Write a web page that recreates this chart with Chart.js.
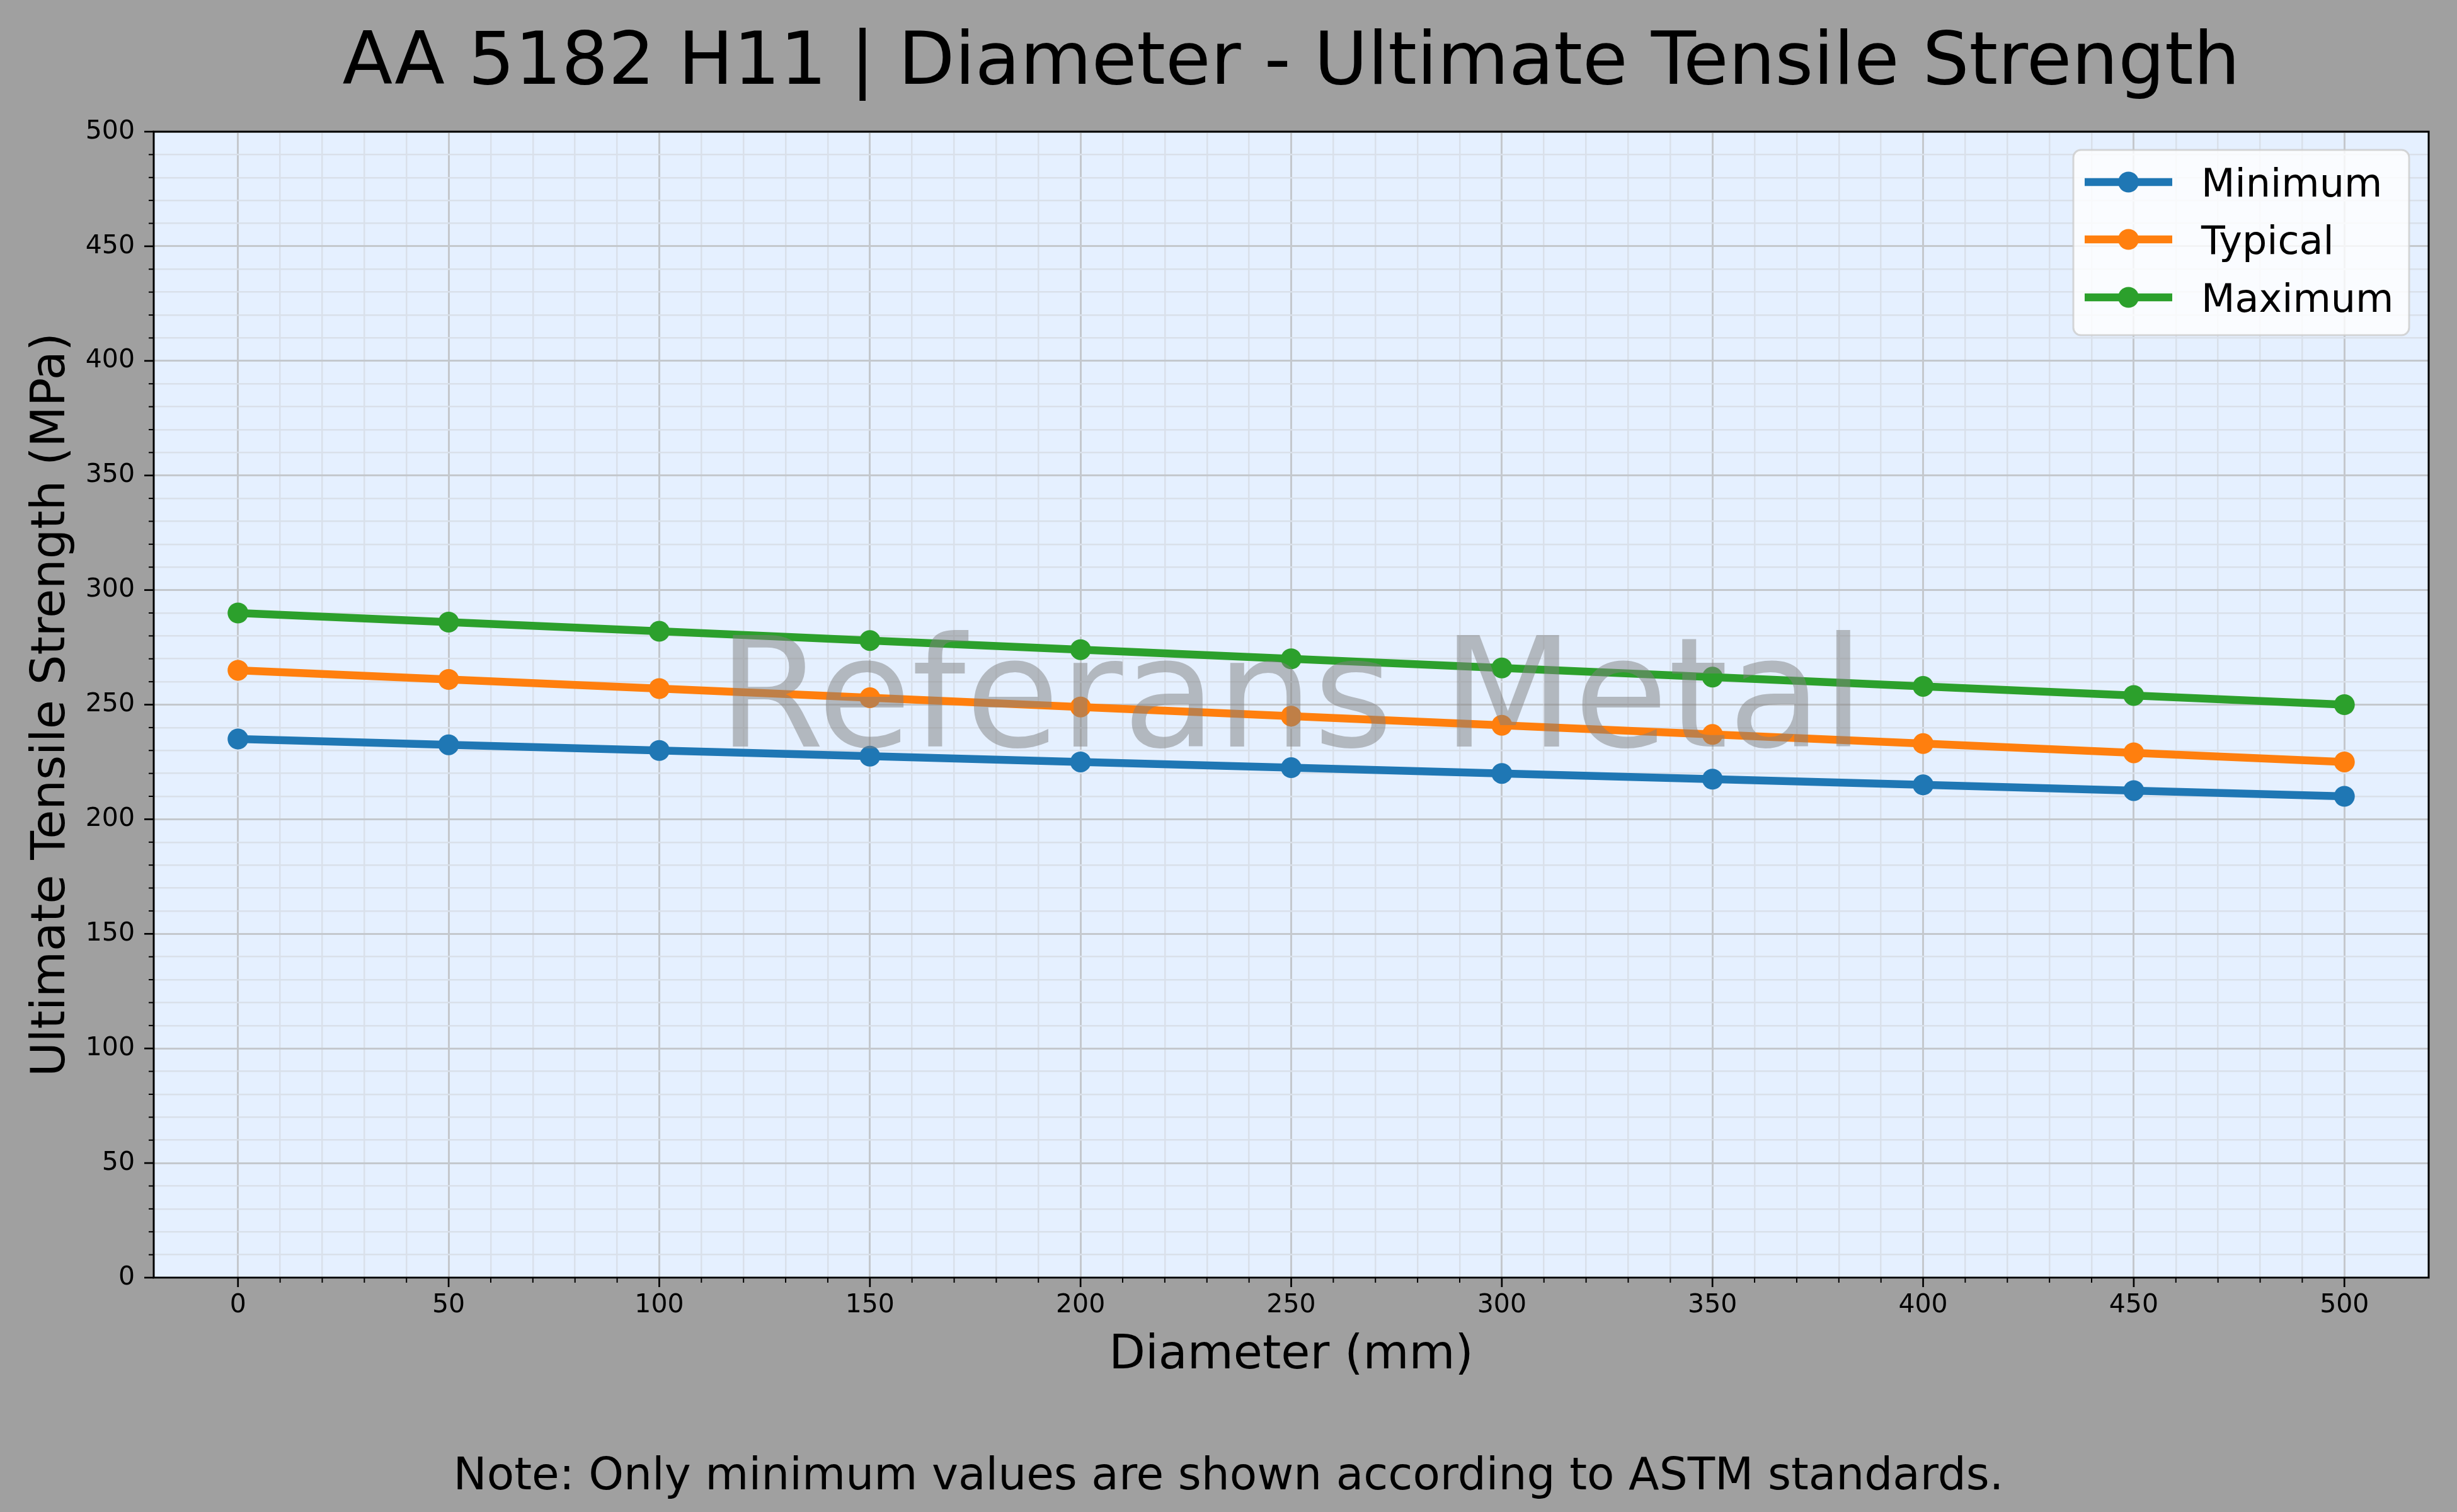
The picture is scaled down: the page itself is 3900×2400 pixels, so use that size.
<!DOCTYPE html>
<html>
<head>
<meta charset="utf-8">
<title>AA 5182 H11 | Diameter - Ultimate Tensile Strength</title>
<script src="https://cdn.jsdelivr.net/npm/chart.js@4.4.1/dist/chart.umd.min.js"></script>
<style>
  html, body { margin: 0; padding: 0; background: #a0a0a0; }
  canvas { display: block; }
</style>
</head>
<body>
<canvas id="utsChart" width="3900" height="2400" style="width:3900px;height:2400px"></canvas>
<script>
/* ---------- DATA ---------- */

const diameters  = [0, 50, 100, 150, 200, 250, 300, 350, 400, 450, 500];
const minimumUTS = [235, 232.5, 230, 227.5, 225, 222.5, 220, 217.5, 215, 212.5, 210];
const typicalUTS = [265, 261, 257, 253, 249, 245, 241, 237, 233, 229, 225];
const maximumUTS = [290, 286, 282, 278, 274, 270, 266, 262, 258, 254, 250];

const seriesNames  = ['Minimum', 'Typical', 'Maximum'];
const seriesColors = ['#1f77b4', '#ff7f0e', '#2ca02c'];

const xTicks = [0, 50, 100, 150, 200, 250, 300, 350, 400, 450, 500];
const yTicks = [0, 50, 100, 150, 200, 250, 300, 350, 400, 450, 500];
const minorStep = 10;

const titleText = 'AA 5182 H11 | Diameter - Ultimate Tensile Strength';
const xLabel = 'Diameter (mm)';
const yLabel = 'Ultimate Tensile Strength (MPa)';
const noteText = 'Note: Only minimum values are shown according to ASTM standards.';
const watermarkText = 'Referans Metal';

/* ---------- STYLE ---------- */

const FONT = '"DejaVu Sans", "Liberation Sans", sans-serif';
const FIG_BG = '#a0a0a0';
const PLOT_BG = '#e5f0ff';
const GRID_MAJOR = 'rgb(196,200,205)';
const GRID_MINOR = 'rgb(217,224,234)';

function toPoints(values) {
  return diameters.map((d, i) => ({ x: d, y: values[i] }));
}

function minorTicks(majors) {
  const out = [];
  const first = majors[0], last = majors[majors.length - 1];
  for (let v = first; v <= last; v += minorStep) out.push({ value: v });
  return out;
}

const isMajor = (list, v) => list.includes(v);

/* ---------- PLUGIN: background, watermark, spines, ticks, texts, legend ---------- */

const decor = {
  id: 'decor',
  beforeDraw(chart) {
    const { ctx, chartArea: a } = chart;
    ctx.save();
    ctx.fillStyle = FIG_BG;
    ctx.fillRect(0, 0, chart.width, chart.height);
    ctx.fillStyle = PLOT_BG;
    ctx.fillRect(a.left, a.top, a.right - a.left, a.bottom - a.top);
    ctx.restore();
  },
  afterDatasetsDraw(chart) {
    const { ctx, chartArea: a } = chart;
    ctx.save();
    ctx.font = `243px ${FONT}`;
    ctx.fillStyle = 'rgba(128,128,128,0.5)';
    ctx.textAlign = 'center';
    ctx.textBaseline = 'alphabetic';
    ctx.fillText(watermarkText, (a.left + a.right) / 2, 1185);
    ctx.restore();
  },
  afterDraw(chart) {
    const { ctx, chartArea: a, scales } = chart;
    ctx.save();

    // spines
    ctx.strokeStyle = '#000';
    ctx.lineWidth = 3;
    ctx.strokeRect(a.left, a.top, a.right - a.left, a.bottom - a.top);

    // tick marks (outward)
    scales.x.ticks.forEach(t => {
      const px = scales.x.getPixelForValue(t.value);
      const major = isMajor(xTicks, t.value);
      ctx.lineWidth = major ? 2.7 : 2;
      ctx.beginPath();
      ctx.moveTo(px, a.bottom);
      ctx.lineTo(px, a.bottom + (major ? 15 : 8));
      ctx.stroke();
    });
    scales.y.ticks.forEach(t => {
      const py = scales.y.getPixelForValue(t.value);
      const major = isMajor(yTicks, t.value);
      ctx.lineWidth = major ? 2.7 : 2;
      ctx.beginPath();
      ctx.moveTo(a.left, py);
      ctx.lineTo(a.left - (major ? 15 : 8), py);
      ctx.stroke();
    });

    // texts
    const cx = (a.left + a.right) / 2;
    ctx.fillStyle = '#000';
    ctx.textBaseline = 'alphabetic';
    ctx.textAlign = 'center';
    ctx.font = `116.5px ${FONT}`;
    ctx.fillText(titleText, cx, 133);
    ctx.font = `75px ${FONT}`;
    ctx.fillText(xLabel, cx, 2172);
    ctx.font = `71px ${FONT}`;
    ctx.fillText(noteText, chart.width / 2, 2364);

    ctx.save();
    ctx.translate(102, (a.top + a.bottom) / 2);
    ctx.rotate(-Math.PI / 2);
    ctx.font = `75px ${FONT}`;
    ctx.fillText(yLabel, 0, 0);
    ctx.restore();

    // legend
    const box = { left: 3291, top: 238, right: 3824, bottom: 532 };
    ctx.beginPath();
    ctx.roundRect(box.left, box.top, box.right - box.left, box.bottom - box.top, 12);
    ctx.fillStyle = 'rgba(255,255,255,0.8)';
    ctx.fill();
    ctx.strokeStyle = 'rgba(204,204,204,0.8)';
    ctx.lineWidth = 3;
    ctx.stroke();

    const rowY = [289, 380, 472];
    ctx.font = `62px ${FONT}`;
    ctx.textAlign = 'left';
    chart.data.datasets.forEach((ds, i) => {
      const y = rowY[i];
      ctx.strokeStyle = ds.borderColor;
      ctx.lineWidth = 12.5;
      ctx.beginPath();
      ctx.moveTo(3309, y);
      ctx.lineTo(3448, y);
      ctx.stroke();
      ctx.fillStyle = ds.borderColor;
      ctx.beginPath();
      ctx.arc(3378.5, y, 16.5, 0, Math.PI * 2);
      ctx.fill();
      ctx.fillStyle = '#000';
      ctx.fillText(ds.label, 3494, y + 22.6);
    });

    ctx.restore();
  }
};

/* ---------- CHART ---------- */

const seriesValues = [minimumUTS, typicalUTS, maximumUTS];

const datasets = seriesValues.map((vals, i) => ({
  label: seriesNames[i],
  data: toPoints(vals),
  borderColor: seriesColors[i],
  backgroundColor: seriesColors[i],
  pointBackgroundColor: seriesColors[i],
  borderWidth: 12.5,
  pointRadius: 16.5,
  pointBorderWidth: 0,
  pointHoverRadius: 16.5,
  borderJoinStyle: 'round',
  tension: 0,
  fill: false,
  order: seriesValues.length - i
}));

function axisOptions(majors, min, max, padding) {
  return {
    type: 'linear',
    min, max,
    afterBuildTicks: scale => { scale.ticks = minorTicks(majors); },
    ticks: {
      autoSkip: false,
      maxRotation: 0,
      minRotation: 0,
      padding,
      color: '#000',
      font: { family: FONT, size: 41 },
      callback: v => isMajor(majors, v) ? String(v) : ''
    },
    grid: {
      drawTicks: false,
      color: c => isMajor(majors, c.tick.value) ? GRID_MAJOR : GRID_MINOR,
      lineWidth: c => isMajor(majors, c.tick.value) ? 3 : 2.5
    },
    border: { display: false }
  };
}

const xAxis = axisOptions(xTicks, -20, 520, 20);
xAxis.afterFit = scale => { scale.height = 372; };
const yAxis = axisOptions(yTicks, 0, 500, 30);
yAxis.afterFit = scale => { scale.width = 244; };

new Chart(document.getElementById('utsChart'), {
  type: 'line',
  data: { datasets },
  options: {
    responsive: false,
    devicePixelRatio: 1,
    animation: false,
    layout: { padding: { top: 209, right: 45, bottom: 0, left: 0 } },
    plugins: {
      legend: { display: false },
      title: { display: false },
      tooltip: { enabled: false }
    },
    scales: { x: xAxis, y: yAxis }
  },
  plugins: [decor]
});
</script>
</body>
</html>
